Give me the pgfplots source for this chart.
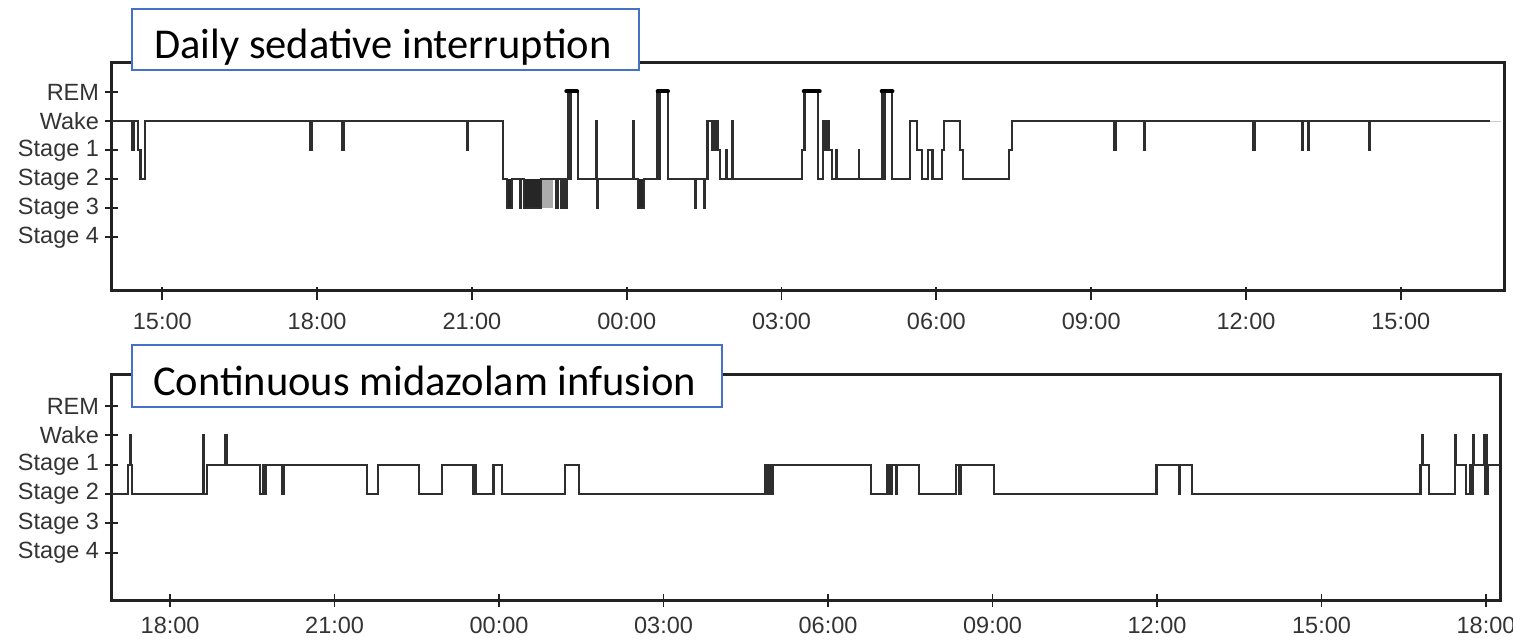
\documentclass[border=0pt]{standalone}
\usepackage{pgfplots}
\pgfplotsset{compat=1.18}
\usepackage{fontspec}
\setmainfont{Liberation Sans}
\newfontfamily\calibri{Carlito}
\definecolor{boxblue}{HTML}{4472C4}
\definecolor{tracecol}{HTML}{2E2E2E}
\definecolor{frame}{HTML}{222222}
\definecolor{labelgray}{HTML}{333333}

\pgfplotsset{
  hypno/.style={
    scale only axis,
    axis line style={line width=3pt, frame},
    xtick pos=bottom, ytick pos=left,
    ytick={0,...,5},
    yticklabels={Stage 4,Stage 3,Stage 2,Stage 1,Wake,REM},
    tick align=center,
    major tick length=13pt,
    every tick/.style={line width=1.8pt, frame},
    tick label style={font=\fontsize{23.5}{27}\selectfont, text=labelgray},
    yticklabel style={inner sep=0pt, xshift=-6pt},
    xticklabel style={inner sep=0pt},
  },
  hyp/.style={const plot, line width=2.2pt, tracecol},
  block/.style={fill=black!85, draw=none},
}

\begin{document}
\begin{tikzpicture}
\useasboundingbox (0,0) rectangle (1513pt,-640pt);

% ---- top: daily sedative interruption
\begin{axis}[hypno,
  at={(111.7pt,-290pt)}, anchor=south west,
  width=1392.3pt, height=227.3pt,
  xmin=14.02, xmax=41.0, ymin=-1.817, ymax=6.021,
  xtick={15,18,21,24,27,30,33,36,39},
  xticklabels={15:00,18:00,21:00,00:00,03:00,06:00,09:00,12:00,15:00},
  xtick style={yshift=-3pt},
  xticklabel style={yshift=-16pt},
]
\addplot[block] coordinates {(21.686,1) (21.771,1) (21.771,2) (21.686,2)};
\addplot[block] coordinates {(22.010,1) (22.333,1) (22.333,2) (22.010,2)};
\addplot[fill=gray!65, draw=none] coordinates {(22.353,1) (22.578,1) (22.578,2) (22.353,2)};
\addplot[block] coordinates {(22.630,1) (22.674,1) (22.674,2) (22.630,2)};
\addplot[block] coordinates {(24.225,1) (24.335,1) (24.335,2) (24.225,2)};
\addplot[hyp] coordinates {
  (14.019,4) (14.419,3) (14.442,4) (14.523,3) (14.578,2) (14.665,4)
  (17.862,3) (17.891,4) (18.483,3) (18.512,4) (20.911,3) (20.930,4)
  (21.597,2) (21.686,1) (21.771,2) (21.938,1) (21.952,2) (22.010,1) (22.333,2)
  (22.630,1) (22.674,2) (22.735,1) (22.746,2) (22.785,1) (22.797,2)
  (22.833,1) (22.847,2) (22.859,5) (22.891,2) (22.911,5) (23.056,2)
  (23.415,4) (23.428,1) (23.442,2) (24.122,4) (24.136,2) (24.225,1) (24.335,2)
  (24.581,5) (24.636,2) (24.651,5) (24.806,2) (25.324,1) (25.337,2)
  (25.498,1) (25.512,2) (25.566,4) (25.663,3) (25.676,4) (25.692,3) (25.707,4)
  (25.721,3) (25.734,4) (25.764,3) (25.808,2) (25.921,3) (25.934,2)
  (26.041,4) (26.054,2) (27.397,3) (27.446,5) (27.713,2) (27.804,4)
  (27.853,3) (27.868,4) (27.911,3) (27.973,2) (28.062,3) (28.076,2)
  (28.496,3) (28.508,2) (28.942,5) (28.996,2) (29.012,5) (29.136,2)
  (29.490,4) (29.632,3) (29.717,2) (29.845,3) (29.926,2) (30.105,3) (30.149,4)
  (30.459,3) (30.512,2) (31.403,3) (31.461,4) (33.453,3) (33.483,4)
  (34.025,3) (34.039,4) (36.143,3) (36.163,4) (37.093,3) (37.112,4)
  (37.200,3) (37.219,4) (38.386,3) (38.399,4) (40.731,4)
};
\addplot[gray!40, line width=1.5pt] coordinates {(40.731,4) (40.95,4)};
% REM markers
\addplot[line width=4pt, black, line cap=round] coordinates {(22.83,5.03) (23.04,5.03)};
\addplot[line width=4pt, black, line cap=round] coordinates {(24.60,5.03) (24.80,5.03)};
\addplot[line width=4pt, black, line cap=round] coordinates {(27.43,5.03) (27.74,5.03)};
\addplot[line width=4pt, black, line cap=round] coordinates {(28.94,5.03) (29.15,5.03)};
\end{axis}

% ---- bottom: continuous midazolam infusion
\begin{axis}[hypno,
  at={(111.7pt,-600.7pt)}, anchor=south west,
  width=1388.3pt, height=226.7pt,
  xmin=16.935, xmax=42.255, ymin=-1.636, ymax=6.091,
  xtick={18,21,24,27,30,33,36,39,42},
  xticklabels={18:00,21:00,00:00,03:00,06:00,09:00,12:00,15:00,18:00},
  xticklabel style={yshift=-10pt},
]
\addplot[hyp] coordinates {
  (16.935,2) (17.238,3) (17.265,4) (17.278,3) (17.311,2) (18.600,4) (18.615,2)
  (18.678,3) (19.007,4) (19.038,3) (19.640,2) (19.694,3) (19.722,2) (19.749,3)
  (20.050,2) (20.068,3) (21.586,2) (21.797,3) (22.545,2) (22.954,3)
  (23.519,2) (23.534,3) (23.570,2) (23.898,3) (24.048,2) (25.202,3) (25.458,2)
  (28.850,3) (28.881,2) (28.928,3) (28.947,2) (28.987,3) (30.783,2)
  (31.070,3) (31.102,2) (31.117,3) (31.148,2) (31.161,3) (31.243,2) (31.256,3)
  (31.659,2) (32.333,3) (32.397,2) (32.425,3) (33.027,2) (35.990,3)
  (36.395,2) (36.408,3) (36.632,2) (40.805,3) (40.838,4) (40.851,3) (40.966,2)
  (41.434,4) (41.453,3) (41.635,2) (41.708,3) (41.735,2) (41.763,4) (41.781,3)
  (41.963,4) (41.981,2) (42.000,4) (42.018,2) (42.042,3) (42.255,3)
};
\end{axis}

% ---- title boxes
\draw[boxblue, line width=2pt, fill=white] (131.8pt,-9.3pt) rectangle (639pt,-70pt);
\node[anchor=base west, inner sep=0pt, font=\calibri\fontsize{42.5}{48}\selectfont]
  at (154pt,-58pt) {Daily sedative interruption};
\draw[boxblue, line width=2pt, fill=white] (131.8pt,-345pt) rectangle (722pt,-407.3pt);
\node[anchor=base west, inner sep=0pt, font=\calibri\fontsize{42.5}{48}\selectfont]
  at (153pt,-395pt) {Continuous midazolam infusion};
\end{tikzpicture}
\end{document}
